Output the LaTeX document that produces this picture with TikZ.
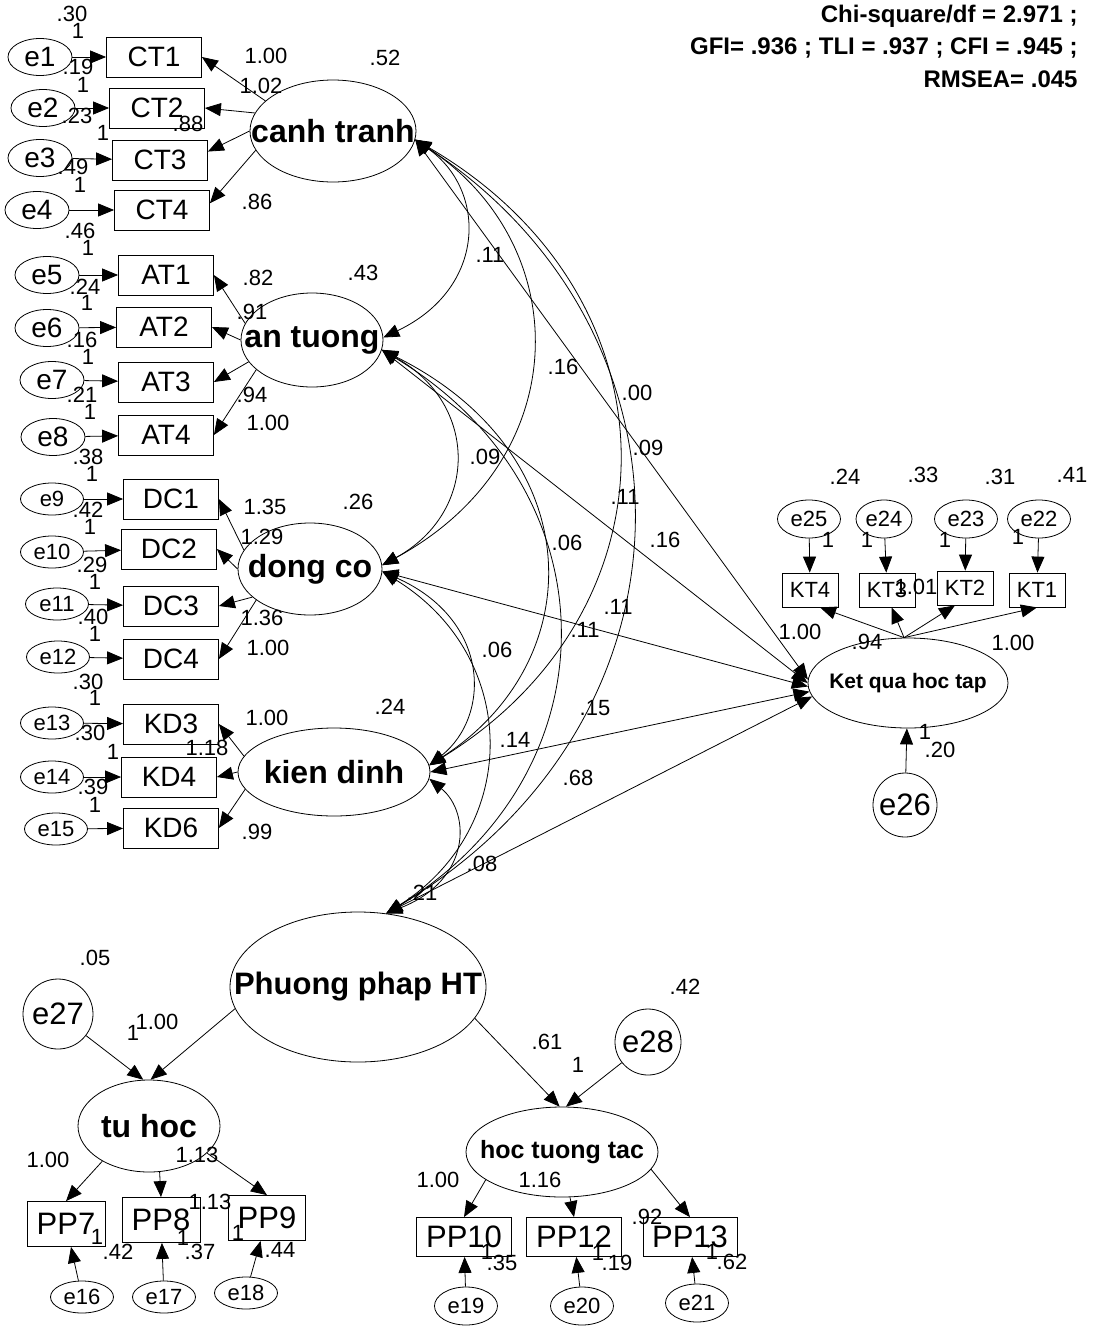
\documentclass[tikz,border=0pt]{standalone}
\usepackage{fontspec}
\setmainfont{Liberation Sans}
\usetikzlibrary{arrows.meta,shapes.geometric}
\newcommand{\latname}[1]{\makebox[0pt]{#1}}
\tikzset{
  obs/.style={draw,rectangle,inner sep=0pt,font=\fontsize{28}{28}\selectfont,
    minimum width=95pt,minimum height=40pt},
  ktbox/.style={obs,font=\fontsize{22}{22}\selectfont,minimum width=56pt,minimum height=34pt},
  ppbox/.style={obs,font=\fontsize{31}{31}\selectfont},
  err/.style={draw,ellipse,inner sep=0pt,font=\fontsize{22}{22}\selectfont,
    minimum width=63pt,minimum height=32pt},
  bigerr/.style={err,font=\fontsize{28}{28}\selectfont,minimum width=64pt,minimum height=37pt},
  dist/.style={draw,circle,inner sep=0pt,font=\fontsize{31}{31}\selectfont},
  lat/.style={draw,ellipse,inner sep=0pt,font=\bfseries\fontsize{32}{32}\selectfont},
  load/.style={-{Triangle[length=16pt,width=13pt]}},
  cov/.style={{Triangle[length=16pt,width=13pt]}-{Triangle[length=16pt,width=13pt]}},
  val/.style={inner sep=0pt,font=\fontsize{22}{22}\selectfont},
  fit/.style={inner sep=0pt,anchor=east,font=\bfseries\fontsize{24}{24}\selectfont}}

\begin{document}
\begin{tikzpicture}[x=1pt,y=-1pt,line width=0.8pt]
\useasboundingbox (0,0) rectangle (1094,1331);

% latent factors
\node[lat,minimum width=166pt,minimum height=102pt] (ct) at (333,131) {\latname{canh tranh}};
\node[lat,minimum width=142pt,minimum height=94pt] (at) at (312,340) {\latname{an tuong}};
\node[lat,minimum width=144pt,minimum height=92pt] (dc) at (310,569) {\latname{dong co}};
\node[lat,minimum width=192pt,minimum height=88pt] (kd) at (334,772) {\latname{kien dinh}};
\node[lat,minimum width=256pt,minimum height=150pt,font=\bfseries\fontsize{31}{31}\selectfont] (pp) at (358,987) {\latname{Phuong phap HT}};
\node[lat,minimum width=142pt,minimum height=92pt] (tu) at (149,1126) {\latname{tu hoc}};
\node[lat,minimum width=192pt,minimum height=90pt,font=\bfseries\fontsize{25}{25}\selectfont] (ht) at (562,1152) {\latname{hoc tuong tac}};
\node[lat,minimum width=200pt,minimum height=90pt,font=\bfseries\fontsize{21}{21}\selectfont] (kq) at (908,683) {\latname{Ket qua hoc tap}};

% observed items
\foreach \n/\x/\y/\t in {ct1/154/57/CT1,ct2/157/108/CT2,ct3/160/160/CT3,ct4/162/210/CT4,
    at1/166/275/AT1,at2/164/327/AT2,at3/166/382/AT3,at4/166/435/AT4,
    dc1/171/499/DC1,dc2/169/549/DC2,dc3/171/606/DC3,dc4/171/659/DC4,
    kd3/171/724/KD3,kd4/169/777/KD4,kd6/171/828/KD6}
  \node[obs] (\n) at (\x,\y) {\t};
\foreach \n/\x/\y/\t in {kt4/810/590/KT4,kt3/887/590/KT3,kt2/965/588/KT2,kt1/1037/590/KT1}
  \node[ktbox] (\n) at (\x,\y) {\t};
\node[ppbox,minimum width=78pt,minimum height=45pt] (pp7) at (66,1224) {PP7};
\node[ppbox,minimum width=78pt,minimum height=45pt] (pp8) at (161,1220) {PP8};
\node[ppbox,minimum width=77pt,minimum height=45pt] (pp9) at (267,1218) {PP9};
\node[ppbox,minimum height=39pt] (pp10) at (464,1237) {PP10};
\node[ppbox,minimum height=39pt] (pp12) at (574,1237) {PP12};
\node[ppbox,minimum width=94pt,minimum height=39pt] (pp13) at (690,1237) {PP13};

% error terms
\foreach \n/\x/\y in {e1/40/57,e2/43/108,e3/40/158,e4/37/210,e5/47/275,e6/47/328,e7/52/380,e8/53/437}
  \node[bigerr] (\n) at (\x,\y) {\n};
\foreach \n/\x/\y in {e9/52/499,e10/52/552,e11/57/604,e12/58/657,e13/52/723,e14/52/777,e15/56/829,
    e16/82/1297,e17/164/1297,e18/246/1293}
  \node[err] (\n) at (\x,\y) {\n};
\foreach \n/\x/\y in {e19/466/1306,e20/582/1306,e21/697/1303,e22/1039/519,e23/966/519,e25/809/519}
  \node[err,minimum height=38pt] (\n) at (\x,\y) {\n};
\node[err,minimum width=56pt,minimum height=38pt] (e24) at (884,519) {e24};
\node[dist,minimum size=64pt] (e26) at (905,805) {e26};
\node[dist,minimum size=70pt] (e27) at (58,1014) {e27};
\node[dist,minimum size=66pt] (e28) at (648,1042) {e28};

% error paths
\foreach \a/\b in {e1/ct1,e2/ct2,e3/ct3,e4/ct4,e5/at1,e6/at2,e7/at3,e8/at4,
    e9/dc1,e10/dc2,e11/dc3,e12/dc4,e13/kd3,e14/kd4,e15/kd6,
    e16/pp7,e17/pp8,e18/pp9,e19/pp10,e20/pp12,e21/pp13,
    e22/kt1,e23/kt2,e24/kt3,e25/kt4,e26/kq}
  \draw[load] (\a) -- (\b);

% factor loadings
\foreach \a/\b in {ct.156/ct1.east,ct.167/ct2.east,ct.180/ct3.10,ct.194/ct4.8,
    at.166/at1.east,at.180/at2.east,at.199/at3.east,at.208/at4.east,
    dc.164/dc1.east,dc.180/dc2.east,dc.206/dc3.east,dc.210/dc4.east,
    kd.170/kd3.east,kd.180/kd4.east,kd.191/kd6.east,
    kq.95/kt4.-60,kq.95/kt3.-75,kq.95/kt2.-120,kq.95/kt1.south,
    tu.217/pp7.north,tu.-77/pp8.north,tu.-25/pp9.north,
    ht.200/pp10.north,ht.-80/pp12.north,ht.-11/pp13.north}
  \draw[load] (\a) -- (\b);

% second order part
\draw[load] (pp.190) -- (tu.88);
\draw[load] (e27) -- (tu.97);
\draw[load] (pp.-15) -- (ht.93);
\draw[load] (e28) -- (ht.85);

% covariances between the factors
\draw[cov] (ct.-6) .. controls (487,190) and (487,288) .. (at.2);
\draw[cov] (ct.-6) .. controls (576,246) and (576,460) .. (dc.3);
\draw[cov] (ct.-6) .. controls (683,296) and (683,609) .. (kd.4);
\draw[cov] (ct.-6) .. controls (709,333) and (709,720) .. (pp.69);
\draw[cov] (at.-8) .. controls (479,404) and (479,512) .. (dc.3);
\draw[cov] (at.-8) .. controls (591,454) and (591,661) .. (kd.4);
\draw[cov] (at.-8) .. controls (616,491) and (616,773) .. (pp.69);
\draw[cov] (dc.-2) .. controls (491,620) and (491,716) .. (kd.4);
\draw[cov] (dc.-2) .. controls (521,657) and (521,828) .. (pp.69);
\draw[cov] (kd.-4) .. controls (471,813) and (471,880) .. (pp.69);
\draw[cov] (ct.-6) -- (kq.178);
\draw[cov] (at.-8) -- (kq.180);
\draw[cov] (dc.-2) -- (kq.182);
\draw[cov] (kd.0) -- (kq.185);
\draw[cov] (pp.69) -- (kq.188);

% estimates
\foreach \x/\y/\t [count=\i] in {72/14/.30,78/31/1,78/67/.19,83/85/1,266/56/1.00,385/58/.52,
    261/86/1.02,77/116/.23,188/124/.88,103/133/1,73/167/.49,80/185/1,257/202/.86,80/231/.46,88/248/1,
    258/278/.82,363/273/.43,85/287/.24,87/303/1,252/312/.91,82/340/.16,88/357/1,82/395/.21,
    90/412/1,252/395/.94,268/423/1.00,88/457/.38,92/474/1,
    265/507/1.35,358/502/.26,88/510/.42,90/527/1,262/537/1.29,92/565/.29,95/582/1,93/617/.40,
    262/618/1.36,95/634/1,268/648/1.00,88/682/.30,
    95/698/1,267/718/1.00,390/707/.24,90/733/.30,113/752/1,207/748/1.18,93/787/.39,95/805/1,257/832/.99,
    490/255/.11,563/367/.16,637/393/.00,648/448/.09,485/457/.09,625/497/.11,665/540/.16,
    567/543/.06,618/607/.11,585/630/.11,497/650/.06,595/708/.15,515/740/.14,578/778/.68,
    482/864/.08,422/893/.21,
    845/477/.24,923/475/.33,1000/477/.31,1072/475/.41,828/540/1,867/540/1,945/540/1,1018/537/1,
    916/587/1.01,800/632/1.00,867/642/.94,1013/643/1.00,925/732/1,940/750/.20,
    95/958/.05,157/1022/1.00,133/1033/1,48/1160/1.00,197/1155/1.13,210/1202/1.13,
    97/1237/1,118/1252/.42,183/1238/1,200/1252/.37,238/1233/1,280/1250/.44,
    685/987/.42,547/1042/.61,578/1065/1,438/1180/1.00,540/1180/1.16,647/1217/.92,
    487/1252/1,502/1263/.35,598/1253/1,617/1263/.19,712/1252/1,732/1262/.62}
  \node[val] (v\i) at (\x,\y) {\t};

% model fit
\node[fit] (chi) at (1078,16) {Chi-square/df = 2.971 ;};
\node[fit] (gfi) at (1078,48) {GFI= .936 ; TLI = .937 ; CFI = .945 ;};
\node[fit] (rmsea) at (1078,79) {RMSEA= .045};
\end{tikzpicture}
\end{document}
